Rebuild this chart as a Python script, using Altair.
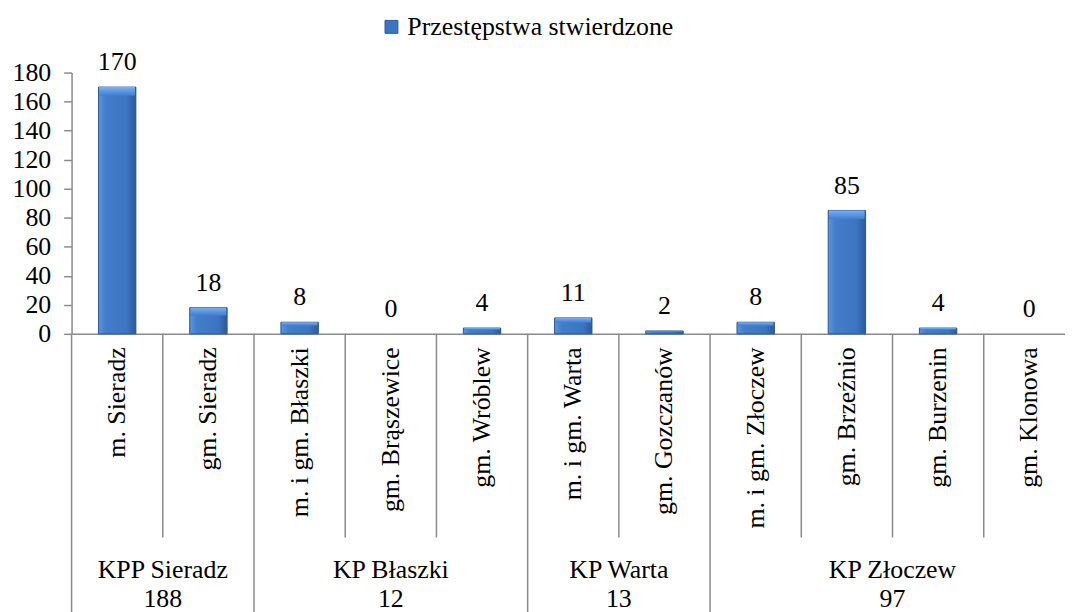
import altair as alt
import pandas as pd

# ---- data ----
places = ["m. Sieradz", "gm. Sieradz", "m. i gm. Błaszki", "gm. Brąszewice", "gm. Wróblew",
          "m. i gm. Warta", "gm. Gozczanów", "m. i gm. Złoczew", "gm. Brzeźnio",
          "gm. Burzenin", "gm. Klonowa"]
values = [170, 18, 8, 0, 4, 11, 2, 8, 85, 4, 0]
group_names = ["KPP Sieradz", "KP Błaszki", "KP Warta", "KP Złoczew"]
group_sizes = [2, 3, 2, 4]
group_totals = [188, 12, 13, 97]
series_name = "Przestępstwa stwierdzone"
y_ticks = [0, 20, 40, 60, 80, 100, 120, 140, 160, 180]

FONT = "Liberation Serif"
FS = 26
W, H = 1010, 263
GRAY = "#8a8a8a"

df = pd.DataFrame({"place": places, "value": values, "series": series_name})

cum = [0]
for s in group_sizes:
    cum.append(cum[-1] + s)
group_bounds = cum
inner_bounds = [i for i in range(1, len(places)) if i not in group_bounds]
centers = [(cum[i] + cum[i + 1]) / 2 for i in range(len(group_sizes))]

df_inner = pd.DataFrame({"pos": inner_bounds})
df_outer = pd.DataFrame({"pos": group_bounds})
df_groups = pd.DataFrame({"pos": centers, "name": group_names, "total": [str(t) for t in group_totals]})

x_band = alt.X("place:N", sort=places,
               scale=alt.Scale(paddingInner=0, paddingOuter=0),
               axis=alt.Axis(title=None, labelAngle=-90, ticks=False, labelPadding=13,
                             labelOverlap=False, labelLimit=0))
y_q = alt.Y("value:Q", scale=alt.Scale(domain=[0, 180], nice=False),
            axis=alt.Axis(title=None, values=y_ticks, grid=False, tickSize=8,
                          labelOverlap=False, labelPadding=13))

grad = alt.Gradient(
    gradient="linear", x1=0, x2=1, y1=0, y2=0,
    stops=[alt.GradientStop(color="#5a95de", offset=0),
           alt.GradientStop(color="#437dca", offset=0.2),
           alt.GradientStop(color="#3c76c2", offset=0.75),
           alt.GradientStop(color="#2b5a9b", offset=1)])
cap_grad = alt.Gradient(
    gradient="linear", x1=0, x2=0, y1=0, y2=1,
    stops=[alt.GradientStop(color="#7ab2f0", offset=0),
           alt.GradientStop(color="#5b96df", offset=0.5),
           alt.GradientStop(color="#437dca", offset=1)])

BW = alt.RelativeBandSize(0.41)
pos_only = alt.datum.value > 0

legend_bars = alt.Chart(df).transform_filter(pos_only).mark_bar(width=BW).encode(
    x=x_band, y=y_q,
    color=alt.Color("series:N", scale=alt.Scale(range=["#3b74c0"]),
                    legend=alt.Legend(title=None, orient="none", legendX=309, legendY=-59,
                                      symbolType="square", symbolSize=169,
                                      symbolStrokeColor="#2c5c9e", symbolStrokeWidth=1,
                                      labelOffset=3, padding=0, labelLimit=0)))
bars = alt.Chart(df).transform_filter(pos_only).mark_bar(
    width=BW, fill=grad, stroke="#2d5b98", strokeWidth=1).encode(x=x_band, y=y_q)
caps = alt.Chart(df).transform_filter(pos_only).transform_calculate(
    cap_lo="datum.value - min(6, datum.value * 0.3)"
).mark_bar(width=alt.RelativeBandSize(0.39), fill=cap_grad).encode(
    x=x_band, y=y_q, y2="cap_lo:Q")
labels = alt.Chart(df).mark_text(font=FONT, fontSize=FS, color="black",
                                 baseline="alphabetic", dy=-17).encode(
    x=x_band, y=y_q, text=alt.Text("value:Q"))

main = alt.layer(legend_bars, bars, caps, labels)

xq = alt.X("pos:Q", scale=alt.Scale(domain=[0, len(places)], nice=False, zero=False), axis=None)
inner_rules = alt.Chart(df_inner).mark_rule(color=GRAY, strokeWidth=1.5).encode(
    x=xq, y=alt.value(H), y2=alt.value(H + 205))
outer_rules = alt.Chart(df_outer).mark_rule(color=GRAY, strokeWidth=1.5).encode(
    x=xq, y=alt.value(H), y2=alt.value(H + 290))
gname = alt.Chart(df_groups).mark_text(font=FONT, fontSize=FS, color="black",
                                       baseline="alphabetic").encode(
    x=xq, y=alt.value(H + 246), text="name:N")
gtotal = alt.Chart(df_groups).mark_text(font=FONT, fontSize=FS, color="black",
                                        baseline="alphabetic").encode(
    x=xq, y=alt.value(H + 275), text="total:N")
deco = alt.layer(inner_rules, outer_rules, gname, gtotal)

chart = alt.layer(main, deco).resolve_scale(x="independent").properties(
    width=W, height=H,
    autosize=alt.AutoSizeParams(type="none"),
    padding={"left": 64, "top": 63, "bottom": 604 - 63 - H, "right": -10},
).configure(font=FONT).configure_view(stroke=None).configure_axis(
    labelFont=FONT, labelFontSize=FS, labelColor="black",
    domainColor=GRAY, domainWidth=1.5, tickColor=GRAY, tickWidth=1.5,
    labelOverlap=False, grid=False,
).configure_legend(
    labelFont=FONT, labelFontSize=FS, labelColor="black",
).configure_text(font=FONT)

chart.save("out.html", embed_options={"renderer": "svg", "actions": False})
